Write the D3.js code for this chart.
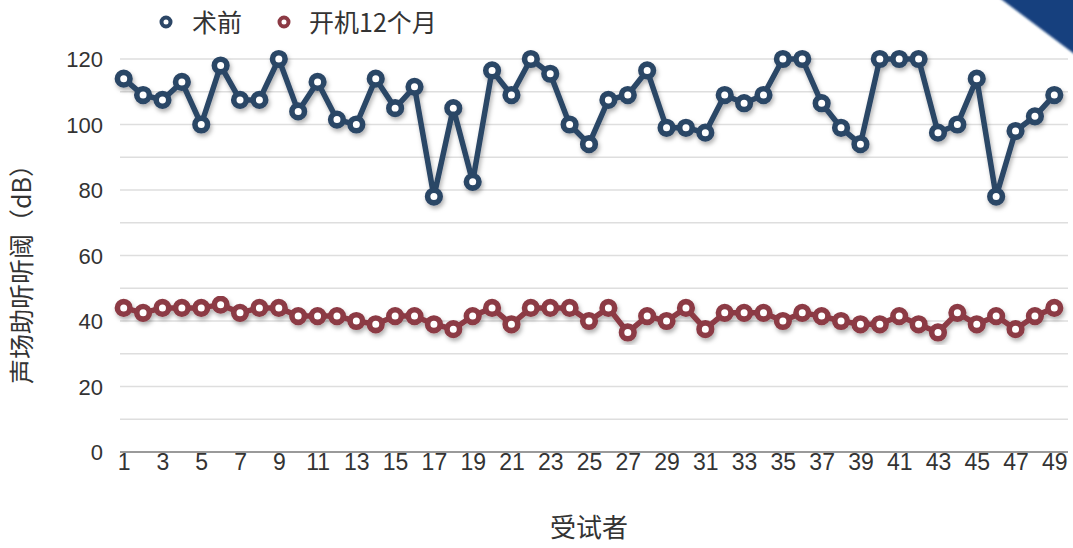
<!DOCTYPE html>
<html>
<head>
<meta charset="utf-8">
<script src="https://cdn.jsdelivr.net/npm/d3@7/dist/d3.min.js"></script>
<style>
  html, body { margin: 0; padding: 0; background: #fff; }
  svg { display: block; }
  text { font-family: "Liberation Sans", "Noto Sans CJK SC", sans-serif; fill: #333; }
  .cjk { font-family: "Noto Sans CJK SC", sans-serif; }
</style>
</head>
<body>
<svg id="chart" width="1073" height="548"></svg>
<script>
// Subjects 1..49
const subjects = d3.range(1, 50);

// Sound-field aided thresholds (dB), before surgery
const preOp = [114, 109, 107.5, 113, 100, 118, 107.5, 107.5, 120, 104,
               113, 101.5, 100, 114, 105, 111.5, 78, 105, 82.5, 116.5,
               109, 120, 115.5, 100, 94, 107.5, 109, 116.5, 99, 99,
               97.5, 109, 106.5, 109, 120, 120, 106.5, 99, 94, 120,
               120, 120, 97.5, 100, 114, 78, 98, 102.5, 109];

// Sound-field aided thresholds (dB), 12 months after activation
const month12 = [44, 42.5, 44, 44, 44, 45, 42.5, 44, 44, 41.5,
                 41.5, 41.5, 40, 39, 41.5, 41.5, 39, 37.5, 41.5, 44,
                 39, 44, 44, 44, 40, 44, 36.5, 41.5, 40, 44,
                 37.5, 42.5, 42.5, 42.5, 40, 42.5, 41.5, 40, 39, 39,
                 41.5, 39, 36.5, 42.5, 39, 41.5, 37.5, 41.5, 44];

const seriesNames = ["术前", "开机12个月"];
const seriesColors = ["#2c4666", "#8c3a44"];
const yTicks = [0, 20, 40, 60, 80, 100, 120];
const yGrid = d3.range(0, 121, 10);
const xTickLabels = subjects.filter(d => d % 2 === 1);

const svg = d3.select("#chart");
const plot = { left: 114, right: 1064, top: 59, bottom: 452 };

const x = d3.scalePoint().domain(subjects).range([plot.left, plot.right]).padding(0.5);
const y = d3.scaleLinear().domain([0, 120]).range([plot.bottom, plot.top]);

// Corner decoration
const defs = svg.append("defs");
const blurF = defs.append("filter").attr("id", "cornerBlur");
blurF.append("feGaussianBlur").attr("stdDeviation", 1.2);
svg.append("path")
  .attr("d", d3.line()([[997, -4], [1077, -4], [1077, 56]]))
  .attr("fill", "#13407e")
  .attr("stroke", "#0a2345")
  .attr("stroke-width", 2)
  .attr("filter", "url(#cornerBlur)");

// Soft shadow under the lines and markers
const shadow = defs.append("filter").attr("id", "shadow")
  .attr("x", "-5%").attr("y", "-5%").attr("width", "110%").attr("height", "120%");
shadow.append("feDropShadow")
  .attr("dx", 1.5).attr("dy", 3).attr("stdDeviation", 2)
  .attr("flood-color", "#000").attr("flood-opacity", 0.3);

// Horizontal gridlines
svg.append("g").selectAll("line")
  .data(yGrid)
  .join("line")
  .attr("x1", plot.left + 6).attr("x2", plot.right + 4)
  .attr("y1", d => y(d)).attr("y2", d => y(d))
  .attr("stroke", d => d === 0 ? "#9a9a9a" : "#dedede")
  .attr("stroke-width", d => d === 0 ? 2.2 : 1.6);

// Y axis labels
const yAxis = d3.axisLeft(y).tickValues(yTicks).tickSize(0).tickPadding(0);
svg.append("g")
  .attr("transform", `translate(${plot.left - 11},0)`)
  .call(yAxis)
  .call(g => g.select(".domain").remove())
  .call(g => g.selectAll("text")
    .style("font-size", "22px")
    .attr("fill", "#333")
    .attr("dy", "0.36em"));

// X axis labels (odd subjects)
const xAxis = d3.axisBottom(x).tickValues(xTickLabels).tickSize(0).tickPadding(0);
svg.append("g")
  .attr("transform", `translate(0,${plot.bottom + 18})`)
  .call(xAxis)
  .call(g => g.select(".domain").remove())
  .call(g => g.selectAll("text")
    .style("font-size", "23px")
    .attr("fill", "#333")
    .attr("y", 0)
    .attr("dy", 0));

// Axis titles
svg.append("text")
  .attr("class", "cjk")
  .attr("x", x(25))
  .attr("y", 537)
  .attr("text-anchor", "middle")
  .style("font-size", "26px")
  .text("受试者");

svg.append("text")
  .attr("class", "cjk")
  .attr("transform", "translate(31,268) rotate(-90)")
  .attr("text-anchor", "middle")
  .style("font-size", "25px")
  .text("声场助听听阈（dB）");

// Series
const seriesData = [preOp, month12];
const line = d3.line().x((d, i) => x(subjects[i])).y(d => y(d));

seriesData.forEach((vals, si) => {
  const g = svg.append("g").attr("filter", "url(#shadow)");
  g.append("path")
    .datum(vals)
    .attr("d", line)
    .attr("fill", "none")
    .attr("stroke", seriesColors[si])
    .attr("stroke-width", 5.5)
    .attr("stroke-linejoin", "round");
  g.selectAll("circle")
    .data(vals)
    .join("circle")
    .attr("cx", (d, i) => x(subjects[i]))
    .attr("cy", d => y(d))
    .attr("r", 6.3)
    .attr("fill", "#fff")
    .attr("stroke", seriesColors[si])
    .attr("stroke-width", 5.6);
});

// Legend
const legendItems = [
  { name: seriesNames[0], color: seriesColors[0], mx: 166, tx: 192 },
  { name: seriesNames[1], color: seriesColors[1], mx: 284, tx: 309 }
];
const lg = svg.append("g");
legendItems.forEach(it => {
  lg.append("circle")
    .attr("cx", it.mx).attr("cy", 22).attr("r", 4.5)
    .attr("fill", "#fff").attr("stroke", it.color).attr("stroke-width", 4);
  lg.append("text")
    .attr("class", "cjk")
    .attr("x", it.tx).attr("y", 23)
    .attr("dy", "0.36em")
    .style("font-size", "25px")
    .text(it.name);
});
</script>
</body>
</html>
